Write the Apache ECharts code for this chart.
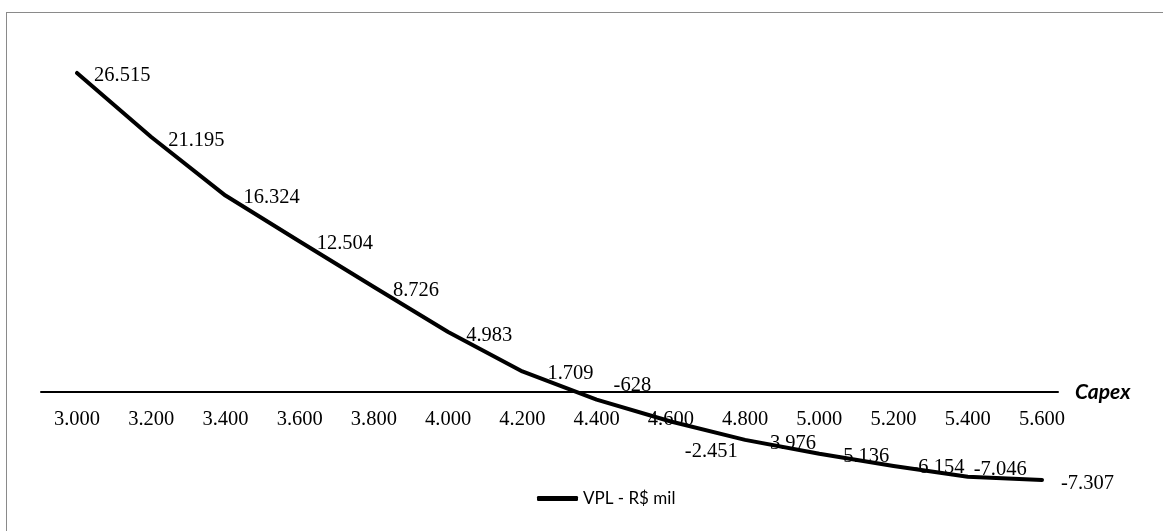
<!DOCTYPE html>
<html>
<head>
<meta charset="utf-8">
<script src="https://cdn.jsdelivr.net/npm/echarts@6/dist/echarts.min.js"></script>
<style>
  html, body { margin: 0; padding: 0; background: #ffffff; overflow: hidden; }
  #frame {
    position: absolute; left: 6px; top: 12px; width: 1200px; height: 600px;
    border: 1.5px solid #8a8a8a; box-sizing: border-box;
  }
  #chart { position: absolute; left: 0; top: 0; width: 1163px; height: 531px; }
</style>
</head>
<body>
<div id="frame"></div>
<div id="chart"></div>
<script>
// Capex scenarios (R$ mil) and resulting NPV (VPL, R$ mil)
const capex = [3000, 3200, 3400, 3600, 3800, 4000, 4200, 4400, 4600, 4800, 5000, 5200, 5400, 5600];
const vpl = [26515, 21195, 16324, 12504, 8726, 4983, 1709, -628, -2451, -3976, -5136, -6154, -7046, -7307];
const seriesName = 'VPL - R$ mil';
const axisName = 'Capex';

// pt-BR style integer formatting: "." as thousands separator
function fmt(v) {
  const s = String(Math.abs(Math.round(v))).replace(/\B(?=(\d{3})+(?!\d))/g, '.');
  return (v < 0 ? '-' : '') + s;
}

// small per-label nudges so labels sit beside the line
const labelNudge = [
  [0, 3], [0, 4], [1, 2.5], [0, 2.5], [2, 4], [1, 4], [8, 2],
  [0, -14], [-3, 30], [1, 4], [0, 3], [1, 2], [-11, -7.5], [2, 4]
];

const serif = '"Liberation Serif", "Times New Roman", serif';
// the plot area ends at the zero line; negative values extend below it
const yMin = 0, yMax = 30000;

const chart = echarts.init(document.getElementById('chart'), null, { renderer: 'canvas' });
chart.setOption({
  animation: false,
  backgroundColor: 'transparent',
  grid: [
    { left: 77, right: 121, top: 31, bottom: 139, containLabel: false, outerBoundsMode: 'none' },
    { left: 41, right: 105, top: 31, bottom: 139, containLabel: false, outerBoundsMode: 'none' }
  ],
  legend: {
    data: [seriesName],
    left: 532,
    top: 485,
    icon: 'roundRect',
    itemWidth: 41,
    itemHeight: 5,
    textStyle: { fontFamily: 'Lato, "Noto Sans", sans-serif', fontSize: 17, color: '#000' }
  },
  xAxis: [
    {
      type: 'category',
      gridIndex: 0,
      position: 'bottom',
      data: capex.map(fmt),
      boundaryGap: false,
      axisLine: { show: false, onZero: false },
      axisTick: { show: false },
      splitLine: { show: false },
      axisLabel: { margin: 17, fontFamily: serif, fontSize: 20.5, color: '#000' }
    },
    {
      type: 'category',
      gridIndex: 1,
      position: 'bottom',
      data: [''],
      boundaryGap: true,
      axisLine: { show: true, onZero: false, lineStyle: { color: '#000', width: 2 } },
      axisTick: { show: false },
      axisLabel: { show: false },
      splitLine: { show: false },
      name: axisName,
      nameLocation: 'end',
      nameGap: 17,
      nameTextStyle: {
        fontFamily: 'Lato, "Open Sans", sans-serif',
        fontSize: 21, fontWeight: 'bold', fontStyle: 'italic', color: '#000',
        padding: [0, 0, 14, 0]
      }
    }
  ],
  yAxis: [
    { type: 'value', gridIndex: 0, min: yMin, max: yMax, show: false },
    { type: 'value', gridIndex: 1, min: yMin, max: yMax, show: false }
  ],
  series: [
    {
      name: seriesName,
      type: 'line',
      xAxisIndex: 0,
      yAxisIndex: 0,
      data: vpl,
      clip: false,
      symbol: 'circle',
      symbolSize: 2,
      showSymbol: true,
      itemStyle: { color: '#000' },
      lineStyle: { color: '#000', width: 4, cap: 'round', join: 'round' },
      label: {
        show: true,
        position: 'right',
        distance: 16,
        fontFamily: serif,
        fontSize: 20.5,
        color: '#000',
        formatter: p => fmt(p.value)
      },
      labelLayout: p => ({ dx: labelNudge[p.dataIndex][0], dy: labelNudge[p.dataIndex][1] }),
      emphasis: { disabled: true }
    }
  ]
});
</script>
</body>
</html>
